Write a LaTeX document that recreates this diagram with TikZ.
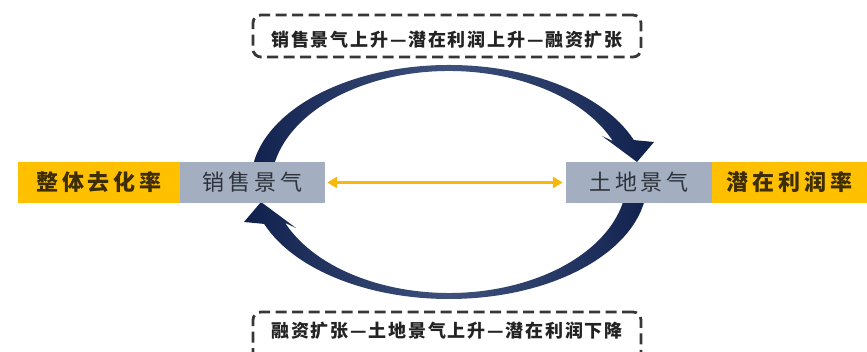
\documentclass[tikz,border=0pt]{standalone}
\usepackage{fontspec}
\usetikzlibrary{arrows.meta}
\newfontfamily\cjkbig[LetterSpace=18]{Noto Sans CJK SC}
\newfontfamily\cjksmall[LetterSpace=10]{Noto Sans CJK SC}
\definecolor{gold}{RGB}{255,192,0}
\definecolor{slate}{RGB}{163,175,192}
\definecolor{navy}{RGB}{16,32,76}
\definecolor{navylight}{RGB}{62,82,125}
\definecolor{orangeline}{RGB}{246,184,10}
\definecolor{dashgray}{RGB}{55,55,55}
\tikzset{
  yelbox/.style={fill=gold, draw=none, minimum height=41pt, inner sep=0pt,
    font=\cjkbig\bfseries\fontsize{22}{26}\selectfont, text={rgb,255:red,60;green,45;blue,5}},
  graybox/.style={fill=slate, draw=none, minimum height=41pt, inner sep=0pt,
    font=\cjkbig\fontsize{22}{26}\selectfont, text={rgb,255:red,45;green,50;blue,60}},
  dbox/.style={draw=dashgray, line width=2.8pt, dash pattern=on 11pt off 5.5pt,
    rounded corners=8pt, minimum width=388pt, inner sep=0pt},
  dtext/.style={font=\cjksmall\bfseries\fontsize{18}{21}\selectfont, text={rgb,255:red,35;green,35;blue,35}, inner sep=0pt},
  ringfill/.style={left color=navy, right color=navy, middle color=navylight, draw=none},
  biarrow/.style={draw=orangeline, line width=3.5pt, {Triangle[length=10pt,width=11pt]}-{Triangle[length=10pt,width=11pt]}}
}
\begin{document}
\begin{tikzpicture}[x=1pt,y=1pt]
\clip (0,0) rectangle (867,352);
\fill[white] (0,0) rectangle (867,352);
% top curved arrow
\begin{scope}[shift={(449,170)}]
  \path[ringfill] (185:198 and 117) arc[start angle=185,end angle=21,x radius=198,y radius=117]
    -- (205,40) -- (188,20) -- (153,46) -- (163.85,40.93)
    arc[start angle=23,end angle=185,x radius=178,y radius=115] -- cycle;
\end{scope}
% bottom curved arrow (point symmetric)
\begin{scope}[shift={(449,170)}, rotate=180]
  \path[ringfill] (185:198 and 117) arc[start angle=185,end angle=21,x radius=198,y radius=117]
    -- (205,40) -- (188,20) -- (153,46) -- (163.85,40.93)
    arc[start angle=23,end angle=185,x radius=178,y radius=115] -- cycle;
\end{scope}
% boxes
\node[yelbox, minimum width=162pt] (yl) at (99,169.5) {整体去化率};
\node[graybox, minimum width=145pt] (gl) at (252.5,169.5) {销售景气};
\node[graybox, minimum width=146pt] (gr) at (639,169.5) {土地景气};
\node[yelbox, minimum width=155pt] (yr) at (789.5,169.5) {潜在利润率};
% double arrow
\draw[biarrow, shorten <=2pt, shorten >=3pt] (gl.east) -- (gr.west);
% dashed boxes
\node[dbox, minimum height=42pt] (tb) at (447,316) {};
\node[dtext] (tt) at (447,312) {销售景气上升—潜在利润上升—融资扩张};
\node[dbox, minimum height=50pt] (bb) at (447,15) {};
\node[dtext] (bt) at (447,21) {融资扩张—土地景气上升—潜在利润下降};
\end{tikzpicture}
\end{document}
